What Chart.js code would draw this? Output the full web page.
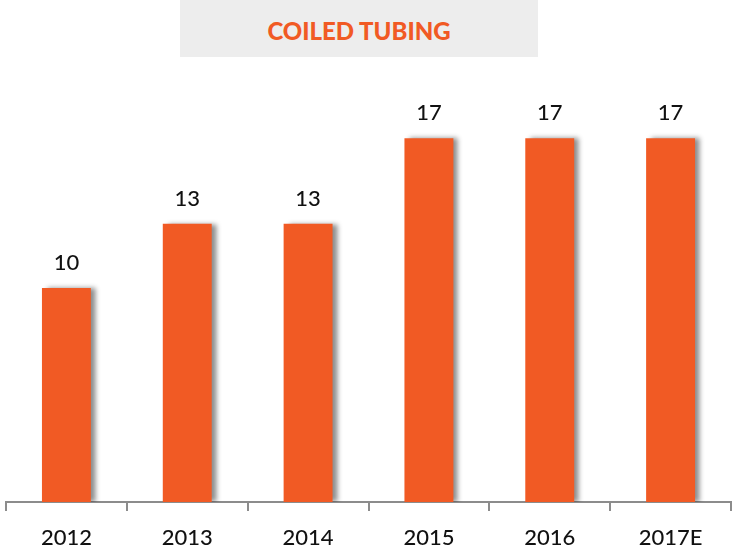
<!DOCTYPE html>
<html>
<head>
<meta charset="utf-8">
<script src="https://cdn.jsdelivr.net/npm/chart.js@4"></script>
<style>
  html, body { margin: 0; padding: 0; background: #fff; overflow: hidden; }
  #wrap { position: relative; width: 732px; height: 553px; }
  #title {
    position: absolute; left: 180px; top: 0; width: 358px; height: 57px;
    background: #ededed; color: #f15a24;
    font: 900 24px Lato, "Open Sans", sans-serif;
    display: flex; align-items: center; justify-content: center;
    padding-top: 4px; box-sizing: border-box;
  }
  canvas { position: absolute; left: 0; top: 0; }
</style>
</head>
<body>
<div id="wrap">
  <canvas id="chart" width="732" height="553"></canvas>
  <div id="title">COILED TUBING</div>
</div>
<script>
// chart data
const years = ["2012", "2013", "2014", "2015", "2016", "2017E"];
const units = [10, 13, 13, 17, 17, 17];

const barColor = "#f15a24";
const font = "Lato, 'Open Sans', sans-serif";

// soft shadow on the right of each bar
const barShadow = {
  id: "barShadow",
  beforeDatasetsDraw(chart) {
    const ctx = chart.ctx;
    ctx.save();
    ctx.shadowColor = "rgba(0,0,0,0.45)";
    ctx.shadowBlur = 5;
    ctx.shadowOffsetX = 5;
    ctx.shadowOffsetY = 0;
  },
  afterDatasetsDraw(chart) {
    chart.ctx.restore();
  }
};

// value labels above bars
const valueLabels = {
  id: "valueLabels",
  afterDatasetsDraw(chart) {
    const ctx = chart.ctx;
    const meta = chart.getDatasetMeta(0);
    ctx.save();
    ctx.fillStyle = "#111";
    ctx.font = "500 22px " + font;
    ctx.textAlign = "center";
    ctx.textBaseline = "bottom";
    meta.data.forEach((bar, i) => {
      ctx.fillText(units[i], bar.x, bar.y - 14);
    });
    ctx.restore();
  }
};

new Chart(document.getElementById("chart"), {
  type: "bar",
  data: {
    labels: years,
    datasets: [{
      data: units,
      backgroundColor: barColor,
      categoryPercentage: 1,
      barPercentage: 0.405
    }]
  },
  options: {
    responsive: false,
    animation: false,
    layout: { padding: { left: 6, right: 1, top: 74, bottom: 0 } },
    plugins: { legend: { display: false }, tooltip: { enabled: false } },
    scales: {
      x: {
        afterFit(scale) { scale.height = 51; },
        border: { color: "#8c8c8c", width: 2 },
        grid: { drawOnChartArea: false, color: "#8c8c8c", lineWidth: 2, tickLength: 9 },
        ticks: { color: "#111", font: { family: font, size: 22, weight: "500" }, padding: 14 }
      },
      y: {
        display: false,
        min: 0,
        max: 20
      }
    }
  },
  plugins: [barShadow, valueLabels]
});
</script>
</body>
</html>
